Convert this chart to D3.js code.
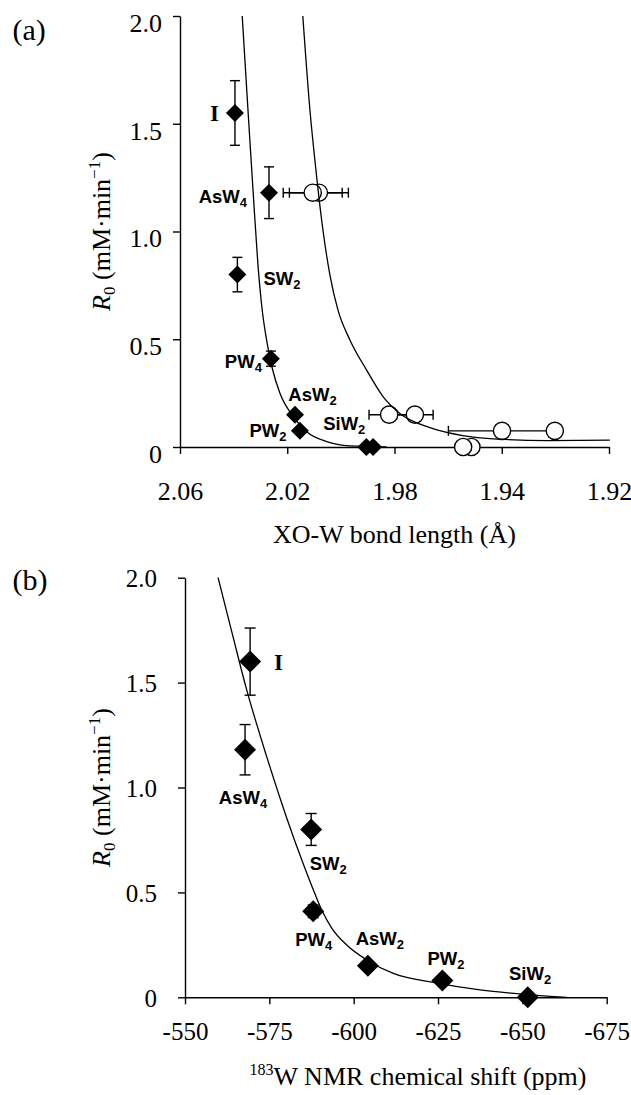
<!DOCTYPE html>
<html><head><meta charset="utf-8">
<script src="https://cdn.jsdelivr.net/npm/d3@7"></script>
<style>
body{margin:0;background:#fff;}
svg text{fill:#000;}
</style></head>
<body><svg id="c" width="631" height="1095"></svg>
<script>
// ---------- DATA ----------
const compounds = ["I","AsW4","SW2","PW4","AsW2","PW2","SiW2"];
// panel (a): XO-W bond length (Å) vs R0
const aBond = [2.0395, 2.0268, 2.0386, 2.0261, 2.0171, 2.0153, 1.9905];
const aR0   = [1.55, 1.18, 0.80, 0.41, 0.15, 0.075, 0.0];
const aErr  = [0.15, 0.12, 0.08, 0.035, 0, 0, 0];
const aExtraDiamondBond = [1.9880];
const aExtraDiamondR0 = [0.0];
// open circles (second bond length set)
const ocBond = [2.0105, 2.0082, 1.9820, 1.9724, 1.9399, 1.9202, 1.9544, 1.9513];
const ocR0   = [1.18, 1.18, 0.15, 0.15, 0.075, 0.075, 0.0, 0.0];
const ocXErr = [0.011, 0.011, 0.0075, 0.0068, 0.020, 0, 0, 0];
// fitted curves (a)
const fit1Bond = [2.0368, 2.03446, 2.0323, 2.03092, 2.02943, 2.02757, 2.02552, 2.02272, 2.01776, 2.01277, 2.00531, 1.99663, 1.98295];
const fit1R0   = [2.0, 1.527, 1.100, 0.845, 0.645, 0.487, 0.362, 0.249, 0.141, 0.071, 0.025, 0.005, 0.0];
const fit2Bond = [2.0142, 2.01154, 2.0093, 2.00669, 2.00408, 2.0011, 1.99663, 1.9904, 1.98421, 1.97799, 1.9668, 1.9545, 1.94183, 1.92319, 1.8997];
const fit2R0   = [2.0, 1.564, 1.285, 1.007, 0.798, 0.636, 0.497, 0.357, 0.233, 0.156, 0.090, 0.053, 0.037, 0.030, 0.032];
// panel (b): 183W NMR chemical shift vs R0
const bShift = [-569.3, -567.8, -587.4, -588.0, -604.2, -626.3, -651.6];
const bR0    = [1.60, 1.18, 0.80, 0.41, 0.15, 0.08, 0.0];
const bErr   = [0.16, 0.12, 0.076, 0.03, 0, 0, 0];
const fitBShift = [-559.8, -564.32, -568.29, -574.22, -580.15, -585.07, -588.54, -590.53, -593.49, -597.94, -603.87, -611.76, -623.61, -637.46, -651.3, -663.16];
const fitBR0    = [2.0, 1.713, 1.465, 1.147, 0.855, 0.635, 0.492, 0.416, 0.330, 0.249, 0.178, 0.114, 0.071, 0.035, 0.013, 0.0];
// ticks
const yTickVals = [0, 0.5, 1.0, 1.5, 2.0];
const yTickLabels = ["0", "0.5", "1.0", "1.5", "2.0"];
const aTickVals = [2.06, 2.02, 1.98, 1.94, 1.90];
const aTickLabels = ["2.06", "2.02", "1.98", "1.94", "1.92"];
const bTickVals = [-550, -575, -600, -625, -650, -675];
const bTickLabels = ["-550", "-575", "-600", "-625", "-650", "-675"];

// ---------- LAYOUT ----------
const svg = d3.select("#c");
const SERIF = "'Liberation Serif','Times New Roman',serif";
const SANS = "'Liberation Sans',Arial,sans-serif";

const ax = d3.scaleLinear().domain([2.06, 1.90]).range([180, 609]);
const ay = d3.scaleLinear().domain([0, 2]).range([447, 16]);
const bx = d3.scaleLinear().domain([-550, -675]).range([185, 606.7]);
const by = d3.scaleLinear().domain([0, 2]).range([997.3, 577.7]);

// label offsets (pixels) for each compound label
const aLab = [
  {dx:-16, dy:8.4, anchor:"end"},
  {dx:-22, dy:10, anchor:"end"},
  {dx:26, dy:10, anchor:"start"},
  {dx:-9, dy:9.3, anchor:"end"},
  {dx:-6.7, dy:-13.3, anchor:"start"},
  {dx:-13.3, dy:5.7, anchor:"end"},
  {dx:-1, dy:-17, anchor:"end"}
];
const bLab = [
  {dx:24, dy:8.3, anchor:"start"},
  {dx:-2, dy:54, anchor:"middle"},
  {dx:17, dy:40.7, anchor:"middle"},
  {dx:0.5, dy:35, anchor:"middle"},
  {dx:12, dy:-21, anchor:"middle"},
  {dx:3.5, dy:-15.7, anchor:"middle"},
  {dx:2.3, dy:-17.3, anchor:"middle"}
];

function drawAxes(xs, ys, xVals, xLabels, opts) {
  const gx = svg.append("g").attr("transform", `translate(0,${ys(0)})`)
    .call(d3.axisBottom(xs).tickValues(xVals).tickSize(7).tickSizeOuter(0).tickPadding(opts.xPad)
      .tickFormat((d, i) => xLabels[i]));
  gx.selectAll("text").attr("font-family", SERIF).attr("font-size", opts.fs);
  const gy = svg.append("g").attr("transform", `translate(${xs.range()[0]},0)`)
    .call(d3.axisLeft(ys).tickValues(yTickVals).tickSize(7).tickSizeOuter(0).tickPadding(opts.yPad)
      .tickFormat((d, i) => yTickLabels[i]));
  gy.selectAll("text").attr("font-family", SERIF).attr("font-size", opts.fs).attr("y", opts.yShift);
  [gx, gy].forEach(g => {
    g.attr("font-family", null).attr("font-size", null);
    g.selectAll("path,line").attr("stroke", "#000").attr("stroke-width", 1.4);
  });
}

function lineFrom(xs, ys, X, Y) {
  const pts = X.map((x, i) => [xs(x), ys(Y[i])]);
  return d3.line().curve(d3.curveMonotoneX)(pts);
}

function diamond(g, cx, cy, h) {
  g.append("path").attr("d", `M${cx},${cy-h}L${cx+h},${cy}L${cx},${cy+h}L${cx-h},${cy}Z`).attr("fill", "#000");
}

function vErr(g, cx, y1, y2, cap) {
  g.append("line").attr("x1", cx).attr("x2", cx).attr("y1", y1).attr("y2", y2);
  g.append("line").attr("x1", cx-cap).attr("x2", cx+cap).attr("y1", y1).attr("y2", y1);
  g.append("line").attr("x1", cx-cap).attr("x2", cx+cap).attr("y1", y2).attr("y2", y2);
}

function compLabel(g, x, y, name, anchor) {
  if (name === "I") {
    g.append("text").attr("x", x).attr("y", y).attr("text-anchor", anchor)
      .attr("font-family", SERIF).attr("font-weight", "bold").attr("font-size", 23).text("I");
    return;
  }
  const m = name.match(/^(.*?)(\d+)$/);
  const t = g.append("text").attr("x", x).attr("y", y).attr("text-anchor", anchor)
    .attr("font-family", SANS).attr("font-weight", "bold").attr("font-size", 18.5);
  t.append("tspan").text(m[1]);
  t.append("tspan").attr("font-size", 13).attr("dy", 4).text(m[2]);
}

// ---------- PANEL (a) ----------
drawAxes(ax, ay, aTickVals, aTickLabels, {xPad: 27.5, yPad: 11, yShift: 7, fs: 26});
{
  const g = svg.append("g").attr("stroke", "#000").attr("stroke-width", 1.4);
  ocBond.forEach((b, i) => {
    if (ocXErr[i] > 0) {
      const x1 = ax(b + ocXErr[i]), x2 = ax(b - ocXErr[i]), y = ay(ocR0[i]);
      g.append("line").attr("x1", x1).attr("x2", x2).attr("y1", y).attr("y2", y);
      g.append("line").attr("x1", x1).attr("x2", x1).attr("y1", y-5).attr("y2", y+5);
      g.append("line").attr("x1", x2).attr("x2", x2).attr("y1", y-5).attr("y2", y+5);
    }
  });
  const order = d3.range(ocBond.length).sort((p, q) => ax(ocBond[q]) - ax(ocBond[p]));
  order.forEach(i => {
    g.append("circle").attr("cx", ax(ocBond[i])).attr("cy", ay(ocR0[i])).attr("r", 8.6)
      .attr("fill", "#fff");
  });
  aBond.forEach((b, i) => {
    if (aErr[i] > 0) vErr(g, ax(b), ay(aR0[i] + aErr[i]), ay(aR0[i] - aErr[i]), 5);
  });
  const gd = svg.append("g");
  aExtraDiamondBond.forEach((b, i) => diamond(gd, ax(b), ay(aExtraDiamondR0[i]), 9));
  aBond.forEach((b, i) => diamond(gd, ax(b), ay(aR0[i]), 9));
  svg.append("path").attr("d", lineFrom(ax, ay, fit1Bond, fit1R0)).attr("fill", "none").attr("stroke", "#000").attr("stroke-width", 1.3);
  svg.append("path").attr("d", lineFrom(ax, ay, fit2Bond, fit2R0)).attr("fill", "none").attr("stroke", "#000").attr("stroke-width", 1.3);
  const gl = svg.append("g");
  compounds.forEach((c, i) => compLabel(gl, ax(aBond[i]) + aLab[i].dx, ay(aR0[i]) + aLab[i].dy, c, aLab[i].anchor));
}

// ---------- PANEL (b) ----------
drawAxes(bx, by, bTickVals, bTickLabels, {xPad: 18, yPad: 21, yShift: 1, fs: 25});
{
  const g = svg.append("g").attr("stroke", "#000").attr("stroke-width", 1.4);
  bShift.forEach((s, i) => {
    if (bErr[i] > 0) vErr(g, bx(s), by(bR0[i] + bErr[i]), by(bR0[i] - bErr[i]), 5.5);
  });
  const gd = svg.append("g");
  bShift.forEach((s, i) => diamond(gd, bx(s), by(bR0[i]), 11));
  svg.append("path").attr("d", lineFrom(bx, by, fitBShift, fitBR0)).attr("fill", "none").attr("stroke", "#000").attr("stroke-width", 1.3);
  const gl = svg.append("g");
  compounds.forEach((c, i) => compLabel(gl, bx(bShift[i]) + bLab[i].dx, by(bR0[i]) + bLab[i].dy, c, bLab[i].anchor));
}

// ---------- TEXT ----------
function yLabel(cx, cy) {
  const t = svg.append("text").attr("transform", `translate(${cx},${cy}) rotate(-90)`)
    .attr("text-anchor", "middle").attr("font-family", SERIF).attr("font-size", 26);
  t.append("tspan").attr("font-style", "italic").text("R");
  t.append("tspan").attr("font-size", 17).attr("dy", 5).text("0");
  t.append("tspan").attr("dy", -5).text(" (mM·min");
  t.append("tspan").attr("font-size", 17).attr("dy", -10).text("−1");
  t.append("tspan").attr("dy", 10).text(")");
}
yLabel(110, (ay.range()[0] + ay.range()[1]) / 2);
yLabel(110, (by.range()[0] + by.range()[1]) / 2);

svg.append("text").attr("x", 394.5).attr("y", 543.3).attr("text-anchor", "middle")
  .attr("font-family", SERIF).attr("font-size", 26).text("XO-W bond length (Å)");
{
  const t = svg.append("text").attr("x", 418).attr("y", 1085).attr("text-anchor", "middle")
    .attr("font-family", SERIF).attr("font-size", 26);
  t.append("tspan").attr("font-size", 16).attr("dy", -10).text("183");
  t.append("tspan").attr("dy", 10).text("W NMR chemical shift (ppm)");
}
svg.append("text").attr("x", 12.5).attr("y", 39.5).attr("font-family", SERIF).attr("font-size", 30).text("(a)");
svg.append("text").attr("x", 12.5).attr("y", 589.5).attr("font-family", SERIF).attr("font-size", 30).text("(b)");
</script>
</body></html>
